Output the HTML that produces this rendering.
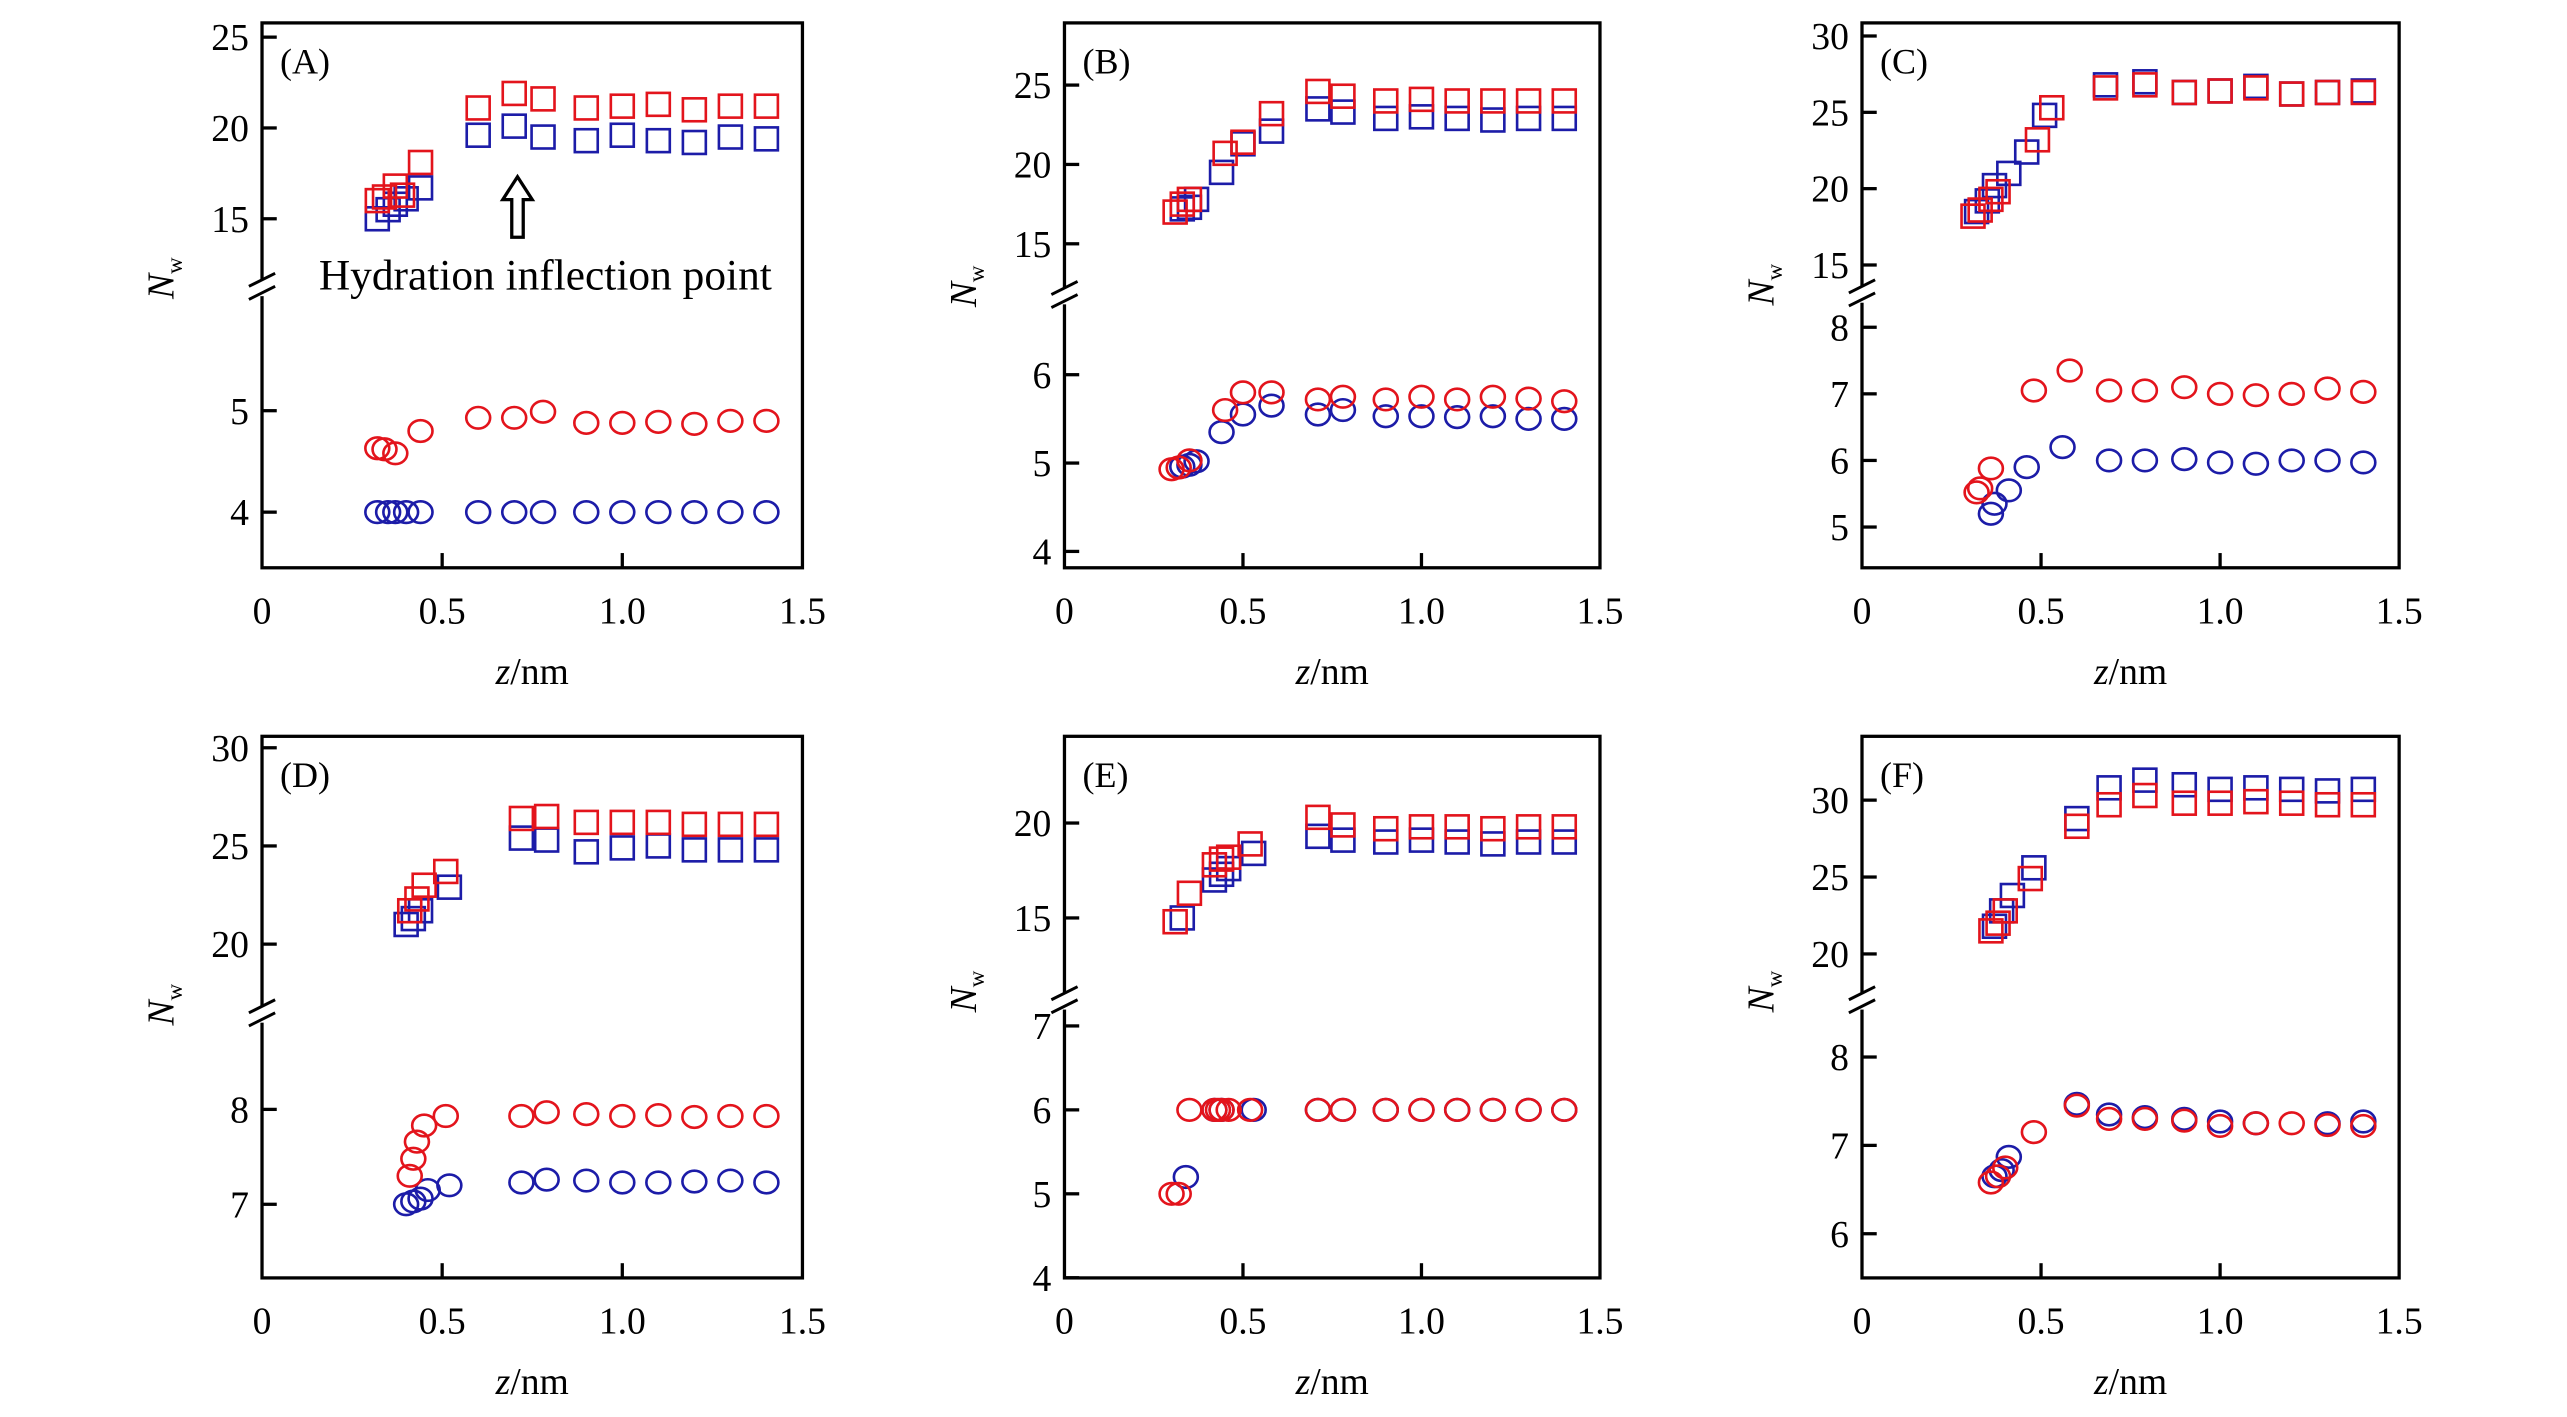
<!DOCTYPE html>
<html><head><meta charset="utf-8"><style>
html,body{margin:0;padding:0;background:#fff;}
svg{display:block;}
text{font-family:"Liberation Serif",serif;fill:#000;}
</style></head><body>
<svg id="s" width="2567" height="1417" viewBox="0 0 1567.5 866" preserveAspectRatio="none" xmlns="http://www.w3.org/2000/svg"></svg>
<script>
const R="#e3141c",B="#1c1ca8";
const P=[
{x0:160,x1:490,y0:14,y1:347,lab:"(A)",brk:176,
 up:{v:[25,20,15],a:25,ya:22.7,k:11.1},lo:{v:[5,4],a:5,ya:251,k:62},
 rs:[[.32,16],[.34,16.2],[.37,16.8],[.39,16.3],[.44,18.1],[.6,21.1],[.7,21.9],[.78,21.6],[.9,21.1],[1,21.2],[1.1,21.3],[1.2,21],[1.3,21.2],[1.4,21.2]],
 bs:[[.32,15],[.35,15.5],[.37,15.8],[.4,16.1],[.44,16.7],[.6,19.6],[.7,20.1],[.78,19.5],[.9,19.3],[1,19.6],[1.1,19.3],[1.2,19.2],[1.3,19.5],[1.4,19.4]],
 rc:[[.32,4.63],[.34,4.62],[.37,4.58],[.44,4.8],[.6,4.93],[.7,4.93],[.78,4.99],[.9,4.88],[1,4.88],[1.1,4.89],[1.2,4.87],[1.3,4.9],[1.4,4.9]],
 bc:[[.32,4],[.35,4],[.37,4],[.4,4],[.44,4],[.6,4],[.7,4],[.78,4],[.9,4],[1,4],[1.1,4],[1.2,4],[1.3,4],[1.4,4]]},
{x0:650,x1:977,y0:14,y1:347,lab:"(B)",brk:181,
 up:{v:[25,20,15],a:25,ya:52,k:9.7},lo:{v:[6,5,4],a:6,ya:229,k:54},
 rs:[[.31,17],[.33,17.5],[.35,17.8],[.45,20.7],[.5,21.4],[.58,23.2],[.71,24.6],[.78,24.3],[.9,24],[1,24.1],[1.1,24],[1.2,24],[1.3,24],[1.4,24]],
 bs:[[.33,17.2],[.35,17.3],[.37,17.8],[.44,19.5],[.5,21.3],[.58,22.1],[.71,23.5],[.78,23.3],[.9,22.9],[1,23],[1.1,22.9],[1.2,22.8],[1.3,22.9],[1.4,22.9]],
 rc:[[.3,4.93],[.32,4.95],[.35,5.03],[.45,5.6],[.5,5.8],[.58,5.8],[.71,5.72],[.78,5.75],[.9,5.72],[1,5.75],[1.1,5.72],[1.2,5.75],[1.3,5.73],[1.4,5.7]],
 bc:[[.33,4.96],[.35,4.98],[.37,5.02],[.44,5.35],[.5,5.55],[.58,5.65],[.71,5.55],[.78,5.6],[.9,5.53],[1,5.53],[1.1,5.52],[1.2,5.53],[1.3,5.5],[1.4,5.5]]},
{x0:1137,x1:1465,y0:14,y1:347,lab:"(C)",brk:180,
 up:{v:[30,25,20,15],a:30,ya:22,k:9.33},lo:{v:[8,7,6,5],a:8,ya:200,k:40.7},
 rs:[[.31,18.2],[.33,18.6],[.36,19.3],[.38,19.8],[.49,23.2],[.53,25.3],[.68,26.6],[.79,26.8],[.9,26.3],[1,26.4],[1.1,26.6],[1.2,26.2],[1.3,26.3],[1.4,26.3]],
 bs:[[.32,18.5],[.35,19.2],[.37,20.2],[.41,21],[.46,22.4],[.51,24.8],[.68,26.8],[.79,27],[.9,26.3],[1,26.4],[1.1,26.7],[1.2,26.2],[1.3,26.3],[1.4,26.4]],
 rc:[[.32,5.52],[.33,5.58],[.36,5.88],[.48,7.05],[.58,7.35],[.69,7.05],[.79,7.05],[.9,7.1],[1,7],[1.1,6.98],[1.2,7],[1.3,7.08],[1.4,7.03]],
 bc:[[.36,5.2],[.37,5.35],[.41,5.55],[.46,5.9],[.56,6.2],[.69,6],[.79,6],[.9,6.02],[1,5.97],[1.1,5.95],[1.2,6],[1.3,6],[1.4,5.97]]},
{x0:160,x1:490,y0:450,y1:781,lab:"(D)",brk:620,
 up:{v:[30,25,20],a:30,ya:457,k:12},lo:{v:[8,7],a:8,ya:678,k:58},
 rs:[[.41,21.7],[.43,22.3],[.45,23],[.51,23.7],[.72,26.4],[.79,26.5],[.9,26.2],[1,26.2],[1.1,26.2],[1.2,26.1],[1.3,26.1],[1.4,26.1]],
 bs:[[.4,21],[.42,21.3],[.44,21.7],[.52,22.9],[.72,25.4],[.79,25.3],[.9,24.7],[1,24.9],[1.1,25],[1.2,24.8],[1.3,24.8],[1.4,24.8]],
 rc:[[.41,7.3],[.42,7.48],[.43,7.66],[.45,7.83],[.51,7.93],[.72,7.93],[.79,7.97],[.9,7.95],[1,7.93],[1.1,7.94],[1.2,7.92],[1.3,7.93],[1.4,7.93]],
 bc:[[.4,7],[.42,7.03],[.44,7.06],[.46,7.15],[.52,7.2],[.72,7.23],[.79,7.26],[.9,7.25],[1,7.23],[1.1,7.23],[1.2,7.24],[1.3,7.25],[1.4,7.23]]},
{x0:650,x1:977,y0:450,y1:781,lab:"(E)",brk:612,
 up:{v:[20,15],a:20,ya:503,k:11.6},lo:{v:[7,6,5,4],a:7,ya:627,k:51.3},
 bs:[[.33,15],[.42,17],[.44,17.3],[.46,17.6],[.53,18.4],[.71,19.3],[.78,19.1],[.9,19],[1,19.1],[1.1,19],[1.2,18.9],[1.3,19],[1.4,19]],
 rs:[[.31,14.8],[.35,16.3],[.42,17.8],[.44,18.1],[.46,18.2],[.52,18.9],[.71,20.3],[.78,19.9],[.9,19.7],[1,19.8],[1.1,19.8],[1.2,19.7],[1.3,19.8],[1.4,19.8]],
 bc:[[.34,5.2],[.42,6],[.44,6],[.53,6],[.71,6],[.78,6],[.9,6],[1,6],[1.1,6],[1.2,6],[1.3,6],[1.4,6]],
 rc:[[.3,5],[.32,5],[.35,6],[.42,6],[.43,6],[.44,6],[.46,6],[.52,6],[.71,6],[.78,6],[.9,6],[1,6],[1.1,6],[1.2,6],[1.3,6],[1.4,6]]},
{x0:1137,x1:1465,y0:450,y1:781,lab:"(F)",brk:612,
 up:{v:[30,25,20],a:30,ya:489,k:9.4},lo:{v:[8,7,6],a:8,ya:646,k:54},
 rs:[[.36,21.5],[.38,22],[.4,22.8],[.47,24.9],[.6,28.3],[.69,29.7],[.79,30.3],[.9,29.8],[1,29.8],[1.1,29.9],[1.2,29.8],[1.3,29.7],[1.4,29.7]],
 bs:[[.37,21.8],[.39,22.8],[.42,23.8],[.48,25.6],[.6,28.8],[.69,30.8],[.79,31.3],[.9,31],[1,30.7],[1.1,30.8],[1.2,30.7],[1.3,30.6],[1.4,30.7]],
 bc:[[.37,6.65],[.39,6.72],[.41,6.87],[.6,7.47],[.69,7.35],[.79,7.32],[.9,7.3],[1,7.27],[1.1,7.25],[1.3,7.25],[1.4,7.27]],
 rc:[[.36,6.58],[.38,6.65],[.4,6.75],[.48,7.15],[.6,7.45],[.69,7.3],[.79,7.3],[.9,7.28],[1,7.22],[1.1,7.25],[1.2,7.25],[1.3,7.23],[1.4,7.22]]}
];
let h="";
for(const p of P){
 const X=z=>p.x0+(p.x1-p.x0)*z/1.5;
 const YU=v=>p.up.ya+(p.up.a-v)*p.up.k, YL=v=>p.lo.ya+(p.lo.a-v)*p.lo.k;
 const sq=(d,c)=>d.forEach(([z,v])=>{h+=`<rect x="${X(z)-7}" y="${YU(v)-7}" width="14" height="14" fill="none" stroke="${c}" stroke-width="1.6"/>`});
 const ci=(d,c)=>d.forEach(([z,v])=>{h+=`<ellipse cx="${X(z)}" cy="${YL(v)}" rx="7.3" ry="6.6" fill="none" stroke="${c}" stroke-width="1.6"/>`});
 sq(p.bs,B);sq(p.rs,R);ci(p.bc,B);ci(p.rc,R);
 h+=`<rect x="${p.x0}" y="${p.y0}" width="${p.x1-p.x0}" height="${p.y1-p.y0}" fill="none" stroke="#000" stroke-width="2"/>`;
 h+=`<rect x="${p.x0-3}" y="${p.brk-5}" width="6" height="10" fill="#fff"/>`;
 h+=`<line x1="${p.x0-8}" y1="${p.brk-1}" x2="${p.x0+8}" y2="${p.brk-9}" stroke="#000" stroke-width="1.8"/><line x1="${p.x0-8}" y1="${p.brk+7}" x2="${p.x0+8}" y2="${p.brk-1}" stroke="#000" stroke-width="1.8"/>`;
 for(const v of p.up.v){const y=YU(v);h+=`<line x1="${p.x0}" y1="${y}" x2="${p.x0+9}" y2="${y}" stroke="#000" stroke-width="2"/><text x="${p.x0-8}" y="${y+8}" font-size="23" text-anchor="end">${v}</text>`;}
 for(const v of p.lo.v){const y=YL(v);h+=`<line x1="${p.x0}" y1="${y}" x2="${p.x0+9}" y2="${y}" stroke="#000" stroke-width="2"/><text x="${p.x0-8}" y="${y+8}" font-size="23" text-anchor="end">${v}</text>`;}
 [[0,"0"],[.5,"0.5"],[1,"1.0"],[1.5,"1.5"]].forEach(([z,t])=>{const x=X(z);if(z>0&&z<1.5)h+=`<line x1="${x}" y1="${p.y1}" x2="${x}" y2="${p.y1-9}" stroke="#000" stroke-width="2"/>`;h+=`<text x="${x}" y="${p.y1+34}" font-size="23" text-anchor="middle">${t}</text>`;});
 h+=`<text x="${(p.x0+p.x1)/2}" y="${p.y1+71}" font-size="23" text-anchor="middle"><tspan font-style="italic">z</tspan>/nm</text>`;
 const ym=p.brk-6;
 h+=`<text transform="translate(${p.x0-54},${ym}) rotate(-90)" font-size="23" text-anchor="middle"><tspan font-style="italic">N</tspan><tspan font-size="14" dy="5">w</tspan></text>`;
 h+=`<text x="${p.x0+11}" y="${p.y0+31}" font-size="22">${p.lab}</text>`;
}
h+=`<path d="M316,108 L325,122 L319.5,122 L319.5,145 L312.5,145 L312.5,122 L307,122 Z" fill="#fff" stroke="#000" stroke-width="2"/>`;
h+=`<text x="333" y="177" font-size="26.5" text-anchor="middle">Hydration inflection point</text>`;
document.getElementById("s").innerHTML=h;
</script>
</body></html>
